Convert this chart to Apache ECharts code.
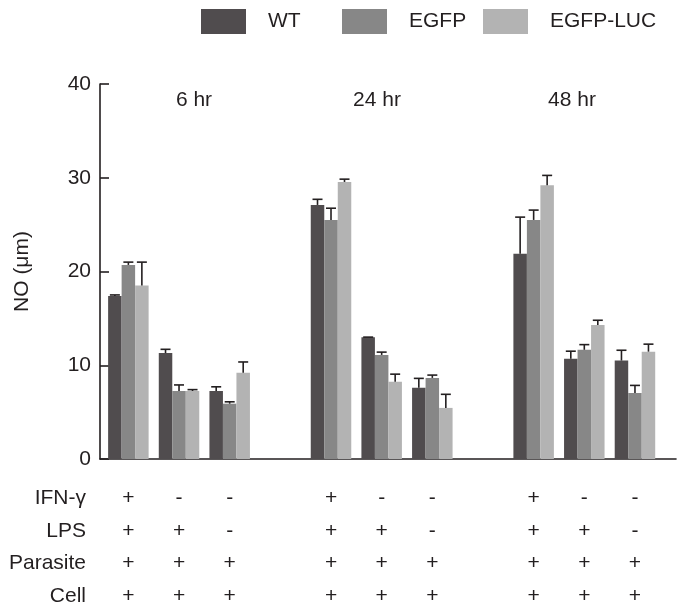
<!DOCTYPE html>
<html>
<head>
<meta charset="utf-8">
<script src="https://cdn.jsdelivr.net/npm/echarts@6/dist/echarts.min.js"></script>
<style>
html,body{margin:0;padding:0;background:#fff;}
#chart{width:685px;height:615px;}
</style>
</head>
<body>
<div id="chart"></div>
<script>
// ---- data ----
var seriesNames = ['WT', 'EGFP', 'EGFP-LUC'];
// x slot of each group (gaps at 3 and 7 separate the time points)
var groupSlots = [0, 1, 2, 4, 5, 6, 8, 9, 10];
var wtValues   = [17.4, 11.3, 7.25, 27.1, 13.0, 7.6, 21.9, 10.7, 10.5];
var wtErr      = [0.1, 0.4, 0.45, 0.6, 0, 1.0, 3.9, 0.8, 1.1];
var egfpValues = [20.7, 7.25, 5.9, 25.5, 11.1, 8.65, 25.5, 11.65, 7.05];
var egfpErr    = [0.3, 0.65, 0.2, 1.25, 0.3, 0.3, 1.05, 0.55, 0.8];
var lucValues  = [18.5, 7.25, 9.2, 29.55, 8.25, 5.45, 29.2, 14.3, 11.45];
var lucErr     = [2.5, 0.15, 1.15, 0.3, 0.8, 1.45, 1.05, 0.5, 0.8];
var timeLabels = ['6 hr', '24 hr', '48 hr'];
var rowNames = ['IFN-γ', 'LPS', 'Parasite', 'Cell'];
var ifnSigns      = ['+', '-', '-', '+', '-', '-', '+', '-', '-'];
var lpsSigns      = ['+', '+', '-', '+', '+', '-', '+', '+', '-'];
var parasiteSigns = ['+', '+', '+', '+', '+', '+', '+', '+', '+'];
var cellSigns     = ['+', '+', '+', '+', '+', '+', '+', '+', '+'];
var yTicks = [0, 10, 20, 30, 40];

// ---- style ----
var colors = ['#504c4e', '#878787', '#b3b3b3'];
var ink = '#231f20';
var FONT = 'Liberation Sans, Arial, sans-serif';
var BAR_W = 13.5;
var FS = 21;

var chart = echarts.init(document.getElementById('chart'));

function pairs(vals) {
  return vals.map(function (v, i) { return [groupSlots[i], v]; });
}
function triples(vals, errs) {
  return vals.map(function (v, i) { return [groupSlots[i], v, errs[i]]; });
}
function errRenderer(k) {
  return function (params, api) {
    var x = api.value(0), v = api.value(1), e = api.value(2);
    var p0 = api.coord([x, v]);
    var p1 = api.coord([x, v + e]);
    var cx = p0[0] + (k - 1) * BAR_W;
    var st = { stroke: ink, lineWidth: 1.6 };
    return {
      type: 'group',
      children: [
        { type: 'line', shape: { x1: cx, y1: p0[1], x2: cx, y2: p1[1] }, style: st },
        { type: 'line', shape: { x1: cx - 5, y1: p1[1], x2: cx + 5, y2: p1[1] }, style: st }
      ]
    };
  };
}

var allVals = [wtValues, egfpValues, lucValues];
var allErrs = [wtErr, egfpErr, lucErr];
var series = [];
seriesNames.forEach(function (n, k) {
  series.push({
    name: n, type: 'bar', data: pairs(allVals[k]), barWidth: BAR_W, barGap: '0%',
    itemStyle: { color: colors[k] }, xAxisIndex: 0, yAxisIndex: 0, z: 2
  });
});
seriesNames.forEach(function (n, k) {
  series.push({
    name: n + ' err', type: 'custom', data: triples(allVals[k], allErrs[k]),
    renderItem: errRenderer(k), xAxisIndex: 0, yAxisIndex: 0, z: 3,
    encode: { x: 0, y: [1, 2] }
  });
});

var signRows = [ifnSigns, lpsSigns, parasiteSigns, cellSigns];
var rowOffsets = [39, 72, 104, 137];
var X_MIN = -0.56, X_MAX = 10.81;

var xAxes = [{
  type: 'value', min: X_MIN, max: X_MAX, position: 'bottom',
  axisLine: { show: true, onZero: false, lineStyle: { color: ink, width: 1.6 } },
  axisTick: { show: false }, axisLabel: { show: false }, splitLine: { show: false }
}];
signRows.forEach(function (signs, r) {
  xAxes.push({
    type: 'value', min: X_MIN, max: X_MAX, position: 'bottom', offset: rowOffsets[r],
    name: rowNames[r], nameLocation: 'start', nameGap: 14,
    nameTextStyle: { fontSize: FS, color: ink, fontFamily: FONT, align: 'right', verticalAlign: 'middle' },
    axisLine: { show: false, onZero: false }, axisTick: { show: false }, splitLine: { show: false },
    axisLabel: {
      show: true, customValues: groupSlots, margin: 0, verticalAlign: 'middle',
      fontSize: FS, color: ink, fontFamily: FONT, hideOverlap: false,
      formatter: function (val) {
        var i = groupSlots.indexOf(Math.round(val));
        return i >= 0 ? signs[i] : '';
      }
    }
  });
});

var legendLefts = [201, 342, 483];
var legends = seriesNames.map(function (n, k) {
  return {
    data: [n], left: legendLefts[k], top: 9, padding: 0, icon: 'rect', itemWidth: 45, itemHeight: 25,
    selectedMode: false,
    textStyle: { fontSize: FS, color: ink, fontFamily: FONT, padding: [0, 0, 0, 17] }
  };
});

var timeX = [194, 377, 572];
var graphics = timeLabels.map(function (t, i) {
  return {
    type: 'text', x: timeX[i], y: 100,
    style: { text: t, fill: ink, font: FS + 'px ' + FONT, textAlign: 'center', textVerticalAlign: 'middle' }
  };
});

chart.setOption({
  animation: false,
  backgroundColor: '#fff',
  textStyle: { fontFamily: FONT },
  legend: legends,
  grid: { left: 100, right: 9, top: 84, bottom: 156 },
  xAxis: xAxes,
  yAxis: {
    type: 'value', min: yTicks[0], max: yTicks[yTicks.length - 1], interval: 10,
    name: 'NO (μm)', nameLocation: 'middle', nameGap: 67,
    nameTextStyle: { fontSize: FS, color: ink, fontFamily: FONT },
    axisLine: { show: true, onZero: false, lineStyle: { color: ink, width: 1.6 } },
    axisTick: { show: true, inside: true, length: 9, lineStyle: { color: ink, width: 1.6 } },
    axisLabel: { fontSize: FS, color: ink, fontFamily: FONT, margin: 9, padding: [7, 0, 0, 0] },
    splitLine: { show: false }
  },
  graphic: graphics,
  series: series
});
</script>
</body>
</html>
